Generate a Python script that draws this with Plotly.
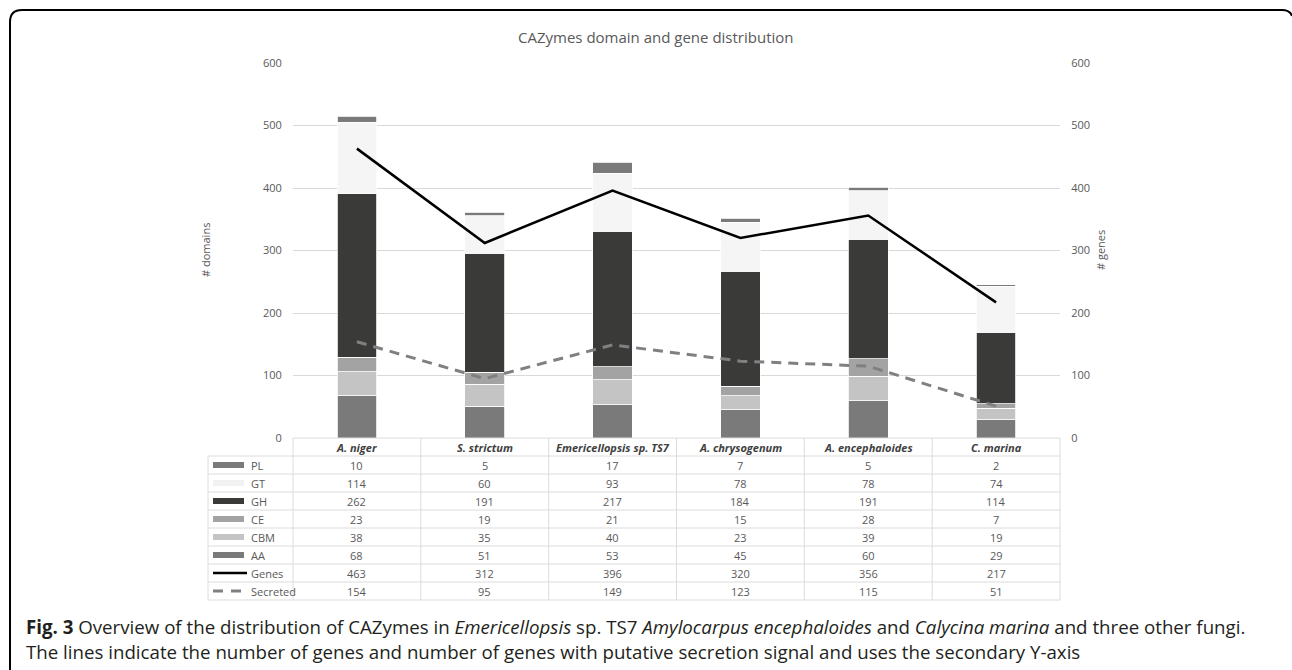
import plotly.graph_objects as go

# ---------------- data ----------------
species = ["A. niger", "S. strictum", "Emericellopsis sp. TS7",
           "A. chrysogenum", "A. encephaloides", "C. marina"]
PL = [10, 5, 17, 7, 5, 2]
GT = [114, 60, 93, 78, 78, 74]
GH = [262, 191, 217, 184, 191, 114]
CE = [23, 19, 21, 15, 28, 7]
CBM = [38, 35, 40, 23, 39, 19]
AA = [68, 51, 53, 45, 60, 29]
genes = [463, 312, 396, 320, 356, 217]
secreted = [154, 95, 149, 123, 115, 51]
y_ticks = [0, 100, 200, 300, 400, 500, 600]

# ---------------- geometry helpers ----------------
W, H = 1292, 670
L, R, T, B = 293, 1060, 63, 438
PW, PH = R - L, B - T


def px(x):
    return (x - L) / PW


def py(y):
    return (B - y) / PH


TXT = "#595959"
GRID = "#d9d9d9"
FONT = "Open Sans"

fig = go.Figure()

stack = [("AA", AA, "#7a7a7a"), ("CBM", CBM, "#c4c4c4"), ("CE", CE, "#a3a3a3"),
         ("GH", GH, "#3a3a38"), ("GT", GT, "#f5f5f5"), ("PL", PL, "#7a7a7a")]
for name, vals, col in stack:
    fig.add_trace(go.Bar(x=species, y=vals, name=name, marker_color=col,
                         marker_line=dict(color="white", width=0.8)))

fig.add_trace(go.Scatter(x=species, y=genes, name="Genes", mode="lines",
                         line=dict(color="black", width=2.5), yaxis="y2"))
fig.add_trace(go.Scatter(x=species, y=secreted, name="Secreted", mode="lines",
                         line=dict(color="#808080", width=3, dash="10px,7px"),
                         yaxis="y2"))

shapes = []
annotations = []

# ---------------- data table ----------------
row_top = 438
row_h = 18
rows = [("PL", PL, "bar", "#7a7a7a"), ("GT", GT, "bar", "#f2f2f2"),
        ("GH", GH, "bar", "#3a3a38"), ("CE", CE, "bar", "#a3a3a3"),
        ("CBM", CBM, "bar", "#c4c4c4"), ("AA", AA, "bar", "#7a7a7a"),
        ("Genes", genes, "line", "black"), ("Secreted", secreted, "dash", "#808080")]
tab_left = 208
n_rows = len(rows)
tab_bottom = row_top + row_h * (n_rows + 1)

line_style = dict(color="#dcdcdc", width=1)
shapes.append(dict(type="line", xref="paper", yref="paper", x0=px(L), x1=px(R),
                   y0=py(row_top), y1=py(row_top), line=line_style))
for k in range(1, n_rows + 2):
    yy = row_top + row_h * k
    shapes.append(dict(type="line", xref="paper", yref="paper", x0=px(tab_left), x1=px(R),
                       y0=py(yy), y1=py(yy), line=line_style))
shapes.append(dict(type="line", xref="paper", yref="paper", x0=px(tab_left), x1=px(tab_left),
                   y0=py(row_top + row_h), y1=py(tab_bottom), line=line_style))
for i in range(len(species) + 1):
    xx = L + PW * i / len(species)
    shapes.append(dict(type="line", xref="paper", yref="paper", x0=px(xx), x1=px(xx),
                       y0=py(row_top), y1=py(tab_bottom), line=line_style))

for i, sp in enumerate(species):
    annotations.append(dict(x=i, xref="x", y=py(row_top + row_h / 2), yref="paper",
                            text="<b><i>%s</i></b>" % sp, showarrow=False,
                            font=dict(family=FONT, size=11, color="#404040"),
                            xanchor="center", yanchor="middle"))
for r, (name, vals, kind, col) in enumerate(rows):
    yc = row_top + row_h * (r + 1) + row_h / 2
    if kind == "bar":
        shapes.append(dict(type="rect", xref="paper", yref="paper", x0=px(213), x1=px(244),
                           y0=py(yc - 3), y1=py(yc + 3), fillcolor=col,
                           line=dict(width=0)))
    elif kind == "line":
        shapes.append(dict(type="line", xref="paper", yref="paper", x0=px(213), x1=px(247),
                           y0=py(yc), y1=py(yc), line=dict(color=col, width=2.5)))
    else:
        shapes.append(dict(type="line", xref="paper", yref="paper", x0=px(213), x1=px(247),
                           y0=py(yc), y1=py(yc), line=dict(color=col, width=3, dash="10px,8px")))
    annotations.append(dict(x=px(249), xref="paper", y=py(yc), yref="paper", text=name,
                            showarrow=False, font=dict(family=FONT, size=11, color=TXT),
                            xanchor="left", yanchor="middle"))
    for i, v in enumerate(vals):
        annotations.append(dict(x=i, xref="x", y=py(yc), yref="paper", text=str(v),
                                showarrow=False, font=dict(family=FONT, size=11, color=TXT),
                                xanchor="center", yanchor="middle"))

# axis titles
annotations.append(dict(x=px(205), xref="paper", y=py(250), yref="paper", text="# domains",
                        textangle=-90, showarrow=False, xanchor="center", yanchor="middle",
                        font=dict(family=FONT, size=11, color=TXT)))
annotations.append(dict(x=px(1100), xref="paper", y=py(250), yref="paper", text="# genes",
                        textangle=-90, showarrow=False, xanchor="center", yanchor="middle",
                        font=dict(family=FONT, size=11, color=TXT)))
# title
annotations.append(dict(x=px(656), xref="paper", y=py(37), yref="paper",
                        text="CAZymes domain and gene distribution", showarrow=False,
                        font=dict(family=FONT, size=15, color=TXT),
                        xanchor="center", yanchor="middle"))
# caption
CAP = dict(family=FONT, size=18.7, color="#231f20")
annotations.append(dict(x=px(24), xref="paper", y=py(626.5), yref="paper", xanchor="left",
                        yanchor="middle", showarrow=False, align="left",
                        text="<b>Fig. 3</b> Overview of the distribution of CAZymes in "
                             "<i>Emericellopsis</i> sp. TS7 <i>Amylocarpus encephaloides</i> and "
                             "<i>Calycina marina</i> and three other fungi.",
                        font=CAP))
annotations.append(dict(x=px(24), xref="paper", y=py(651.5), yref="paper", xanchor="left",
                        yanchor="middle", showarrow=False, align="left",
                        text="The lines indicate the number of genes and number of genes with "
                             "putative secretion signal and uses the secondary Y-axis",
                        font=CAP))

# outer rounded border
path = ("M %f,%f L %f,%f Q %f,%f %f,%f L %f,%f Q %f,%f %f,%f" % (
    px(10), py(672), px(10), py(22), px(10), py(10), px(22), py(10),
    px(1282), py(10), px(1290), py(10), px(1292), py(16)))
shapes.append(dict(type="path", xref="paper", yref="paper", path=path,
                   line=dict(color="black", width=2)))

fig.update_layout(
    width=W, height=H,
    margin=dict(l=L, r=W - R, t=T, b=H - B, pad=0),
    paper_bgcolor="white", plot_bgcolor="white",
    barmode="stack", bargap=0.69, showlegend=False,
    font=dict(family=FONT, color=TXT, size=11),
    xaxis=dict(showticklabels=False, showgrid=False, zeroline=False, showline=False,
               range=[-0.5, len(species) - 0.5]),
    yaxis=dict(range=[0, 600], tickvals=y_ticks, gridcolor=GRID, gridwidth=1,
               zeroline=False, showline=False, ticks="outside", ticklen=8,
               tickcolor="rgba(0,0,0,0)", tickfont=dict(family=FONT, size=11, color=TXT)),
    yaxis2=dict(range=[0, 600], tickvals=y_ticks, overlaying="y", side="right",
                showgrid=False, zeroline=False, showline=False, ticks="outside", ticklen=8,
                tickcolor="rgba(0,0,0,0)", tickfont=dict(family=FONT, size=11, color=TXT)),
    shapes=shapes, annotations=annotations,
)

fig.write_html("out.html", config={"displayModeBar": False},
               post_script="document.body.style.margin='0';document.body.style.overflow='hidden';")
